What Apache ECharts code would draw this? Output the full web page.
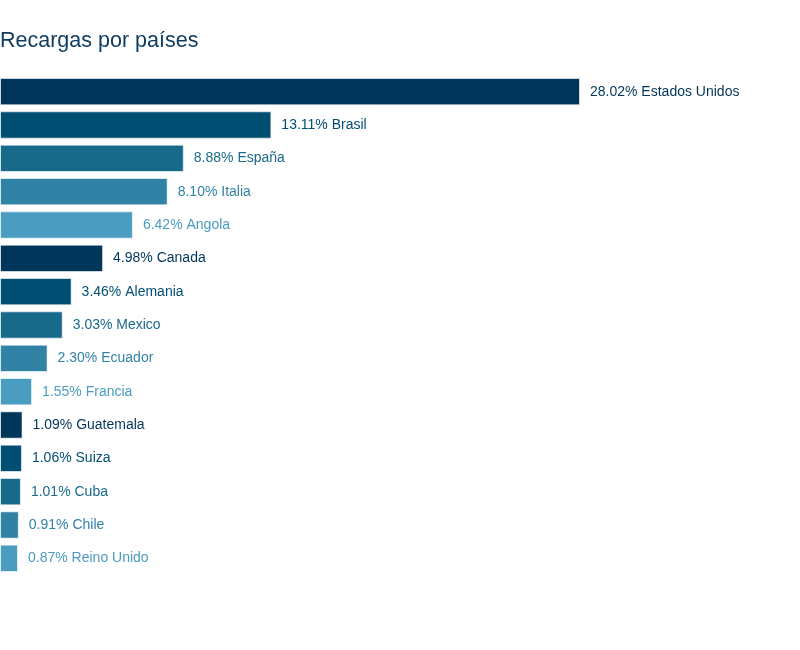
<!DOCTYPE html>
<html>
<head>
<meta charset="utf-8">
<script src="https://cdn.jsdelivr.net/npm/echarts@6/dist/echarts.min.js"></script>
<style>
  html, body { margin: 0; padding: 0; background: #fff; }
  #chart { width: 800px; height: 650px; }
</style>
</head>
<body>
<div id="chart"></div>
<script>
// datos
const paises = ['Estados Unidos', 'Brasil', 'España', 'Italia', 'Angola', 'Canada', 'Alemania', 'Mexico',
    'Ecuador', 'Francia', 'Guatemala', 'Suiza', 'Cuba', 'Chile', 'Reino Unido'];
const porcentajes = [28.02, 13.11, 8.88, 8.10, 6.42, 4.98, 3.46, 3.03, 2.30, 1.55, 1.09, 1.06, 1.01, 0.91, 0.87];
const paleta = ['#00365a', '#004f73', '#186a8b', '#3183a6', '#4a9cc0'];

const chart = echarts.init(document.getElementById('chart'));

const option = {
    backgroundColor: '#fff',
    textStyle: { fontFamily: 'Liberation Sans' },
    title: {
        text: 'Recargas por países',
        left: 0,
        top: 30,
        padding: 0,
        textStyle: {
            color: '#0d3b5e',
            fontSize: 21.5,
            fontWeight: 'normal',
            fontFamily: 'Liberation Sans'
        }
    },
    grid: {
        left: -1,
        top: 75,
        width: 581,
        height: 500
    },
    xAxis: {
        type: 'value',
        min: 0,
        max: 28.02,
        show: false
    },
    yAxis: {
        type: 'category',
        inverse: true,
        data: paises,
        show: false
    },
    series: [{
        type: 'bar',
        barCategoryGap: '18%',
        data: porcentajes.map((v, i) => ({
            value: v,
            itemStyle: { color: paleta[i % paleta.length] },
            label: { color: paleta[i % paleta.length] }
        })),
        itemStyle: {
            borderColor: 'rgba(255,255,255,0.6)',
            borderWidth: 1
        },
        label: {
            show: true,
            position: 'right',
            distance: 10,
            fontSize: 14,
            fontFamily: 'Liberation Sans',
            formatter: p => p.value.toFixed(2) + '% ' + p.name
        },
        animation: false
    }]
};

chart.setOption(option);
</script>
</body>
</html>
